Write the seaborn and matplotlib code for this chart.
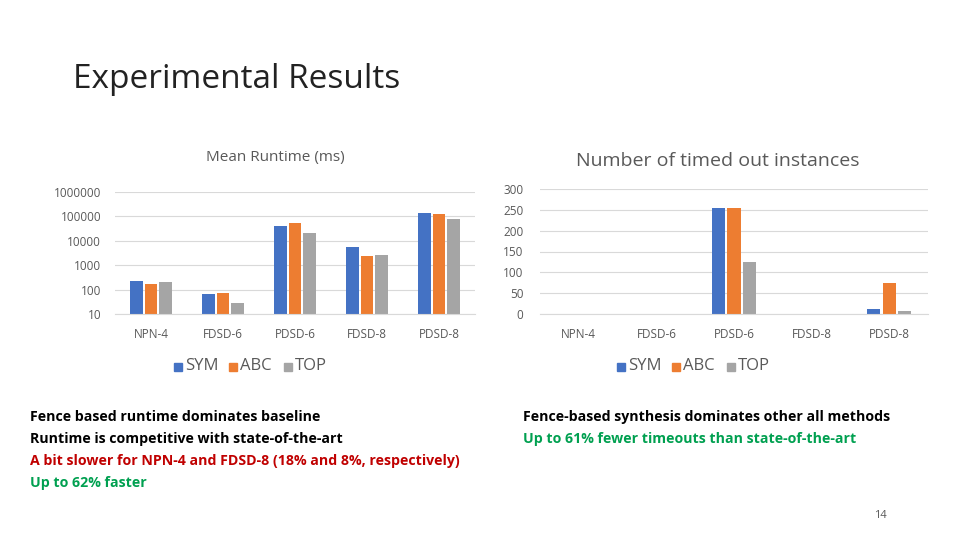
import matplotlib
matplotlib.use("Agg")
import matplotlib.pyplot as plt
import seaborn as sns
import pandas as pd

categories = ["NPN-4", "FDSD-6", "PDSD-6", "FDSD-8", "PDSD-8"]
methods = ["SYM", "ABC", "TOP"]
runtime_sym = [220, 65, 42000, 5500, 140000]
runtime_abc = [170, 70, 52000, 2300, 130000]
runtime_top = [200, 28, 20000, 2500, 75000]
timeout_sym = [0, 0, 255, 0, 12]
timeout_abc = [0, 0, 255, 0, 75]
timeout_top = [0, 0, 125, 0, 8]
colors = ["#4472C4", "#ED7D31", "#A5A5A5"]

def frame(a, b, c):
    rows = []
    for vals, m in zip([a, b, c], methods):
        for cat, v in zip(categories, vals):
            rows.append({"cat": cat, "method": m, "value": v})
    return pd.DataFrame(rows)

plt.rcParams["font.family"] = "Open Sans"
fig = plt.figure(figsize=(9.6, 5.4), dpi=100)
fig.text(73/960, 1-80/540, "Experimental Results", fontsize=24, va="center", color="#222222")

def style(ax):
    ax.set_xlabel(""); ax.set_ylabel("")
    for s in ax.spines.values():
        s.set_visible(False)
    ax.spines["bottom"].set_visible(True)
    ax.spines["bottom"].set_color("#d9d9d9")
    ax.grid(axis="y", color="#d9d9d9", lw=0.8)
    ax.set_axisbelow(True)
    ax.tick_params(length=0, labelsize=8.5, colors="#595959", pad=10)
    ax.legend_.remove()

ax1 = fig.add_axes([115/960, 1-314/540, 360/960, 122/540])
sns.barplot(data=frame(runtime_sym, runtime_abc, runtime_top), x="cat", y="value",
            hue="method", palette=colors, width=0.6, gap=0.15, ax=ax1, saturation=1)
ax1.set_yscale("log")
ax1.set_ylim(10, 1e6)
ax1.set_yticks([10, 100, 1000, 10000, 100000, 1000000])
ax1.set_yticklabels(["10", "100", "1000", "10000", "100000", "1000000"])
ax1.minorticks_off()
style(ax1)
ax1.tick_params(axis="y", pad=10)
fig.text(275/960, 1-158/540, "Mean Runtime (ms)", fontsize=11, ha="center", va="center", color="#595959")

ax2 = fig.add_axes([540/960, 1-314/540, 388/960, 125/540])
sns.barplot(data=frame(timeout_sym, timeout_abc, timeout_top), x="cat", y="value",
            hue="method", palette=colors, width=0.6, gap=0.15, ax=ax2, saturation=1)
ax2.set_ylim(0, 300)
ax2.set_yticks(range(0, 301, 50))
style(ax2)
ax2.tick_params(axis="y", pad=12)
fig.text(718/960, 1-161/540, "Number of timed out instances", fontsize=14, ha="center", va="center", color="#595959")

for cx in (275, 718):
    for i, (m, c) in enumerate(zip(methods, colors)):
        x = cx - 95 + i*55
        fig.patches.append(plt.Rectangle(((x-6)/960, 1-371/540), 8/960, 8/540, color=c, transform=fig.transFigure))
        fig.text((x+5)/960, 1-366/540, m, fontsize=12, va="center", color="#595959")

lines_l = [("Fence based runtime dominates baseline", "black"),
           ("Runtime is competitive with state-of-the-art", "black"),
           ("A bit slower for NPN-4 and FDSD-8 (18% and 8%, respectively)", "#C00000"),
           ("Up to 62% faster", "#00A050")]
for i, (t, c) in enumerate(lines_l):
    fig.text(30/960, 1-(417+22*i)/540, t, fontsize=10.2, fontweight="bold", color=c, va="center")
lines_r = [("Fence-based synthesis dominates other all methods", "black"),
           ("Up to 61% fewer timeouts than state-of-the-art", "#00A050")]
for i, (t, c) in enumerate(lines_r):
    fig.text(523/960, 1-(417+22*i)/540, t, fontsize=10.2, fontweight="bold", color=c, va="center")
fig.text(880/960, 1-515/540, "14", fontsize=8, color="#595959", ha="center", va="center")

fig.savefig("out.png", dpi=100)
